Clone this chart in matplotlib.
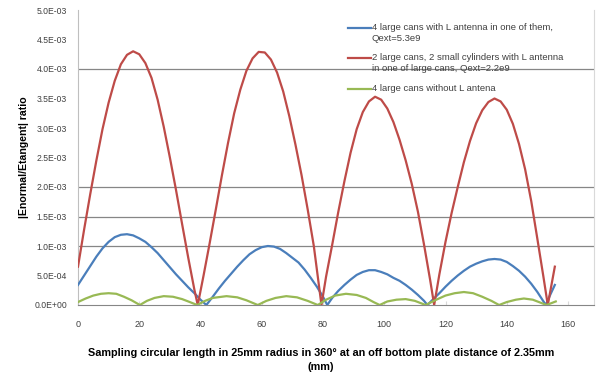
import matplotlib.pyplot as plt
from matplotlib.lines import Line2D
from matplotlib.ticker import FuncFormatter

plt.rcParams['font.family'] = ['Liberation Sans', 'DejaVu Sans']

# Серия 1: 4 large cans with L antenna (синяя), значения в единицах 1e-3
blue_x = [0, 2, 4, 6, 8, 10, 12, 14, 16, 18, 20, 22, 24, 26, 28, 30, 32, 34, 36, 38, 40, 41.9,
          44, 46, 48, 50, 52, 54, 56, 58, 60, 62, 64, 66, 68, 70, 72, 74, 76, 78, 80, 81.4,
          83, 85, 87, 89, 91, 93, 95, 97, 99, 101, 103, 105, 107, 109, 111, 113, 114.1,
          116, 118, 120, 122, 124, 126, 128, 130, 132, 134, 136, 138, 140, 142, 144, 146, 148,
          150, 152, 152.8, 154, 155.7]
blue_y = [0.34, 0.5, 0.66, 0.82, 0.96, 1.07, 1.15, 1.19, 1.2, 1.18, 1.13, 1.07, 0.98, 0.88, 0.76,
          0.64, 0.52, 0.41, 0.3, 0.2, 0.09, 0.0,
          0.14, 0.28, 0.41, 0.53, 0.65, 0.76, 0.86, 0.93, 0.98, 1.0, 0.99, 0.95, 0.88, 0.8, 0.72,
          0.6, 0.46, 0.31, 0.14, 0.0,
          0.12, 0.24, 0.34, 0.43, 0.51, 0.56, 0.59, 0.59, 0.56, 0.52, 0.46, 0.41, 0.34, 0.26,
          0.17, 0.07, 0.0,
          0.1, 0.2, 0.31, 0.41, 0.5, 0.58, 0.65, 0.7, 0.74, 0.77, 0.78, 0.77, 0.73, 0.66, 0.58,
          0.48, 0.36, 0.22, 0.06, 0.0, 0.15, 0.34]

# Серия 2: 2 large cans, 2 small cylinders (красная)
red_x = [0, 2, 4, 6, 8, 10, 12, 14, 16, 18, 20, 22, 24, 26, 28, 30, 32, 34, 36, 38, 39.1,
         41, 43, 45, 47, 49, 51, 53, 55, 57, 59, 61, 63, 65, 67, 69, 71, 73, 75, 77, 79.5,
         81, 83, 85, 87, 89, 91, 93, 95, 97, 99, 101, 103, 105, 107, 109, 111, 113, 115, 116.3,
         118, 120, 122, 124, 126, 128, 130, 132, 134, 136, 138, 140, 142, 144, 146, 148, 150,
         152, 153.4, 155.7]
red_y = [0.65, 1.28, 1.88, 2.45, 2.98, 3.43, 3.8, 4.08, 4.24, 4.3, 4.25, 4.1, 3.85, 3.48, 3.02,
         2.5, 1.95, 1.37, 0.8, 0.26, 0.0,
         0.5, 1.05, 1.62, 2.2, 2.75, 3.25, 3.65, 3.97, 4.18, 4.29, 4.28, 4.16, 3.94, 3.62, 3.2,
         2.72, 2.2, 1.62, 1.0, 0.0,
         0.48, 1.02, 1.58, 2.1, 2.58, 2.98, 3.27, 3.45, 3.53, 3.48, 3.33, 3.1, 2.8, 2.45, 2.05,
         1.58, 1.02, 0.42, 0.0,
         0.52, 1.07, 1.56, 2.0, 2.42, 2.78, 3.08, 3.3, 3.44, 3.5, 3.45, 3.31, 3.07, 2.73, 2.3,
         1.76, 1.12, 0.47, 0.0, 0.65]

# Серия 3: 4 large cans without L antena (зелёная)
green_x = [0, 2.5, 5, 7.5, 10, 12.5, 15, 17.5, 20.2, 22.5, 25, 28, 31, 34, 36.5, 38.9,
           41.5, 44, 48.5, 52, 55, 58.7, 61.5, 64.5, 68, 71.5, 75, 78.3, 81, 84, 87.5, 91,
           94, 96.5, 98.5, 101, 104, 107, 110, 113.5, 117, 120, 123, 126, 129, 132, 135,
           137.5, 140, 143, 145.6, 148.5, 151, 153, 156]
green_y = [0.05, 0.11, 0.16, 0.19, 0.2, 0.19, 0.14, 0.08, 0.0, 0.07, 0.12, 0.15, 0.14, 0.1,
           0.05, 0.0, 0.07, 0.12, 0.15, 0.13, 0.08, 0.0, 0.07, 0.12, 0.15, 0.13, 0.07, 0.0,
           0.09, 0.16, 0.19, 0.17, 0.12, 0.05, 0.0, 0.06, 0.09, 0.1, 0.07, 0.0, 0.09, 0.16,
           0.2, 0.22, 0.2, 0.14, 0.07, 0.0, 0.05, 0.09, 0.11, 0.09, 0.04, 0.0, 0.06]

labels = ['4 large cans with L antenna in one of them,\nQext=5.3e9',
          '2 large cans, 2 small cylinders with L antenna\nin one of large cans, Qext=2.2e9',
          '4 large cans without L antena']
colors = ['#4A7EBB', '#BE4B48', '#98B954']
grid_levels = [1.0e-3, 1.5e-3, 2.0e-3, 4.0e-3]

fig = plt.figure(figsize=(5.96, 3.74), dpi=100)
ax = fig.add_axes([78 / 596, 1 - 305 / 374, (594 - 78) / 596, 295 / 374])

for g in grid_levels:
    ax.axhline(g, color='#868686', lw=0.9, zorder=0)

series = [(blue_x, blue_y), (red_x, red_y), (green_x, green_y)]
for (xs, ys), c in zip(series, colors):
    ax.plot(xs, [v * 1e-3 for v in ys], color=c, lw=1.6, zorder=3)

ax.set_xlim(0, (594 - 78) / 3.0625)
ax.set_ylim(0, 5e-3)
ax.set_xticks(range(0, 161, 20))
ax.set_yticks([i * 0.5e-3 for i in range(11)])
ax.yaxis.set_major_formatter(FuncFormatter(lambda v, p: f'{v:.1E}'))

ax.spines['top'].set_visible(False)
ax.spines['left'].set_color('#BFBFBF')
ax.spines['right'].set_color('#D9D9D9')
ax.spines['bottom'].set_color('#868686')
ax.tick_params(axis='y', length=0, pad=8, labelsize=6.2, labelcolor='#404040')
ax.tick_params(axis='x', direction='in', length=3, color='#D9D9D9', pad=11,
               labelsize=6.5, labelcolor='#404040')

ax.set_ylabel('|Enormal/Etangent| ratio', fontsize=7.6, fontweight='bold', labelpad=4)
fig.text(321 / 596, 1 - 360 / 374,
         'Sampling circular length in 25mm radius in 360\u00b0 at an off bottom plate distance of 2.35mm\n(mm)',
         ha='center', va='center', fontsize=7.8, fontweight='bold', linespacing=1.45)

# Легенда вручную: линия на уровне первой строки подписи
leg_y = [28, 58, 89]
for y, lab, c in zip(leg_y, labels, colors):
    fy = 1 - y / 374
    fig.add_artist(Line2D([348 / 596, 371 / 596], [fy, fy], color=c, lw=1.6))
    fig.text(372 / 596, 1 - (y - 5) / 374, lab, ha='left', va='top', fontsize=6.8,
             color='#404040', linespacing=1.35)

fig.savefig('out.png', dpi=100)
